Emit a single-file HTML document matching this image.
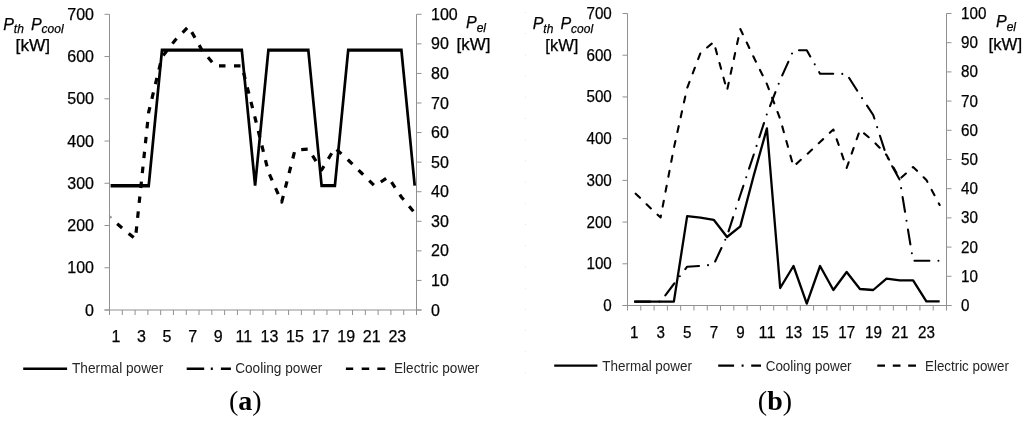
<!DOCTYPE html>
<html><head><meta charset="utf-8"><title>Thermal, cooling and electric power</title>
<style>
html,body{margin:0;padding:0;background:#fff;}
body{width:1024px;height:422px;overflow:hidden;}
svg{display:block;}
text{font-family:'Liberation Sans', Arial, sans-serif;fill:#000;stroke:#000;stroke-width:0.25px;}
.tick text{font-size:16px;}
.leg{font-size:14px;fill:#262626;stroke:none;}
.ttl{font-size:16px;}
.it{font-style:italic;}
.sub{font-size:12px;font-style:italic;}
.cap{font-family:'Liberation Serif', 'Times New Roman', serif;font-size:28px;stroke:none;}
</style></head>
<body>
<svg width="1024" height="422" viewBox="0 0 1024 422">
<defs>
<clipPath id="ca"><rect x="110.6" y="0" width="306" height="311"/></clipPath>
<clipPath id="cb"><rect x="628" y="0" width="318" height="306"/></clipPath>
</defs>
<rect width="1024" height="422" fill="#fff"/>
<g fill="#e4e4ec"><rect x="525" y="12" width="1" height="1"/><rect x="525" y="33.2" width="1" height="1"/><rect x="525" y="54.4" width="1" height="1"/><rect x="525" y="75.6" width="1" height="1"/><rect x="525" y="96.8" width="1" height="1"/><rect x="525" y="118" width="1" height="1"/><rect x="525" y="139.2" width="1" height="1"/><rect x="525" y="160.4" width="1" height="1"/><rect x="525" y="181.6" width="1" height="1"/><rect x="525" y="202.8" width="1" height="1"/><rect x="525" y="224" width="1" height="1"/><rect x="525" y="245.2" width="1" height="1"/><rect x="525" y="266.4" width="1" height="1"/><rect x="525" y="287.6" width="1" height="1"/><rect x="525" y="308.8" width="1" height="1"/><rect x="525" y="330" width="1" height="1"/><rect x="525" y="351.2" width="1" height="1"/><rect x="525" y="372.4" width="1" height="1"/></g>
<path d="M109.5 14.3V310M416.5 14.3V310" stroke="#919191" stroke-width="1" fill="none"/>
<path d="M104.5 310H421.5" stroke="#919191" stroke-width="1" fill="none"/>
<path d="M104.5 310H109.5M104.5 267.76H109.5M104.5 225.51H109.5M104.5 183.27H109.5M104.5 141.03H109.5M104.5 98.79H109.5M104.5 56.54H109.5M104.5 14.3H109.5M416.5 310H421.5M416.5 280.43H421.5M416.5 250.86H421.5M416.5 221.29H421.5M416.5 191.72H421.5M416.5 162.15H421.5M416.5 132.58H421.5M416.5 103.01H421.5M416.5 73.44H421.5M416.5 43.87H421.5M416.5 14.3H421.5M109.5 310V315M122.29 310V315M135.08 310V315M147.88 310V315M160.67 310V315M173.46 310V315M186.25 310V315M199.04 310V315M211.83 310V315M224.62 310V315M237.42 310V315M250.21 310V315M263 310V315M275.79 310V315M288.58 310V315M301.38 310V315M314.17 310V315M326.96 310V315M339.75 310V315M352.54 310V315M365.33 310V315M378.12 310V315M390.92 310V315M403.71 310V315M416.5 310V315" stroke="#919191" stroke-width="1" fill="none"/>
<g class="tick"><text x="94" y="315.5" text-anchor="end">0</text><text x="94" y="273.26" text-anchor="end">100</text><text x="94" y="231.01" text-anchor="end">200</text><text x="94" y="188.77" text-anchor="end">300</text><text x="94" y="146.53" text-anchor="end">400</text><text x="94" y="104.29" text-anchor="end">500</text><text x="94" y="62.04" text-anchor="end">600</text><text x="94" y="19.8" text-anchor="end">700</text><text x="431" y="315.5">0</text><text x="431" y="285.93">10</text><text x="431" y="256.36">20</text><text x="431" y="226.79">30</text><text x="431" y="197.22">40</text><text x="431" y="167.65">50</text><text x="431" y="138.08">60</text><text x="431" y="108.51">70</text><text x="431" y="78.94">80</text><text x="431" y="49.37">90</text><text x="431" y="19.8">100</text><text x="115.9" y="341.8" text-anchor="middle">1</text><text x="141.48" y="341.8" text-anchor="middle">3</text><text x="167.06" y="341.8" text-anchor="middle">5</text><text x="192.65" y="341.8" text-anchor="middle">7</text><text x="218.23" y="341.8" text-anchor="middle">9</text><text x="243.81" y="341.8" text-anchor="middle">11</text><text x="269.4" y="341.8" text-anchor="middle">13</text><text x="294.98" y="341.8" text-anchor="middle">15</text><text x="320.56" y="341.8" text-anchor="middle">17</text><text x="346.15" y="341.8" text-anchor="middle">19</text><text x="371.73" y="341.8" text-anchor="middle">21</text><text x="397.31" y="341.8" text-anchor="middle">23</text></g>
<g clip-path="url(#ca)" fill="none" stroke="#000" stroke-linejoin="miter" stroke-miterlimit="10">
<g transform="translate(108.8 0) scale(0.8 1)"><polyline points="0,185.8 16.62,185.8 33.25,185.8 49.87,185.8 66.5,50.1 83.13,50.1 99.75,50.1 116.38,50.1 133,50.1 149.62,50.1 166.25,50.1 182.88,185.6 199.5,50.1 216.12,50.1 232.75,50.1 249.38,50.1 266,185.6 282.62,185.6 299.25,50.1 315.87,50.1 332.5,50.1 349.12,50.1 365.75,50.1 382.38,185.6" stroke-width="3.4" stroke-miterlimit="3"/></g>
<polyline points="108.8,216.5 122.1,228 135.4,239 148.7,112 162,57 175.3,40 188.6,26.5 201.9,50 215.2,65.8 228.5,65.8 241.8,65.8 255.1,118 268.4,172 281.7,202 295,150 308.3,149 321.6,170 334.9,148 348.2,160 361.5,173 374.8,186 388.1,177 401.4,197 414.7,213" stroke-linejoin="round" stroke-width="3.2" stroke-dasharray="6.5 8.5" stroke-dashoffset="3.9"/>
</g>
<path d="M627.5 13.5V305.5M946.5 13.5V305.5" stroke="#919191" stroke-width="1" fill="none"/>
<path d="M622.5 305.5H951.5" stroke="#919191" stroke-width="1" fill="none"/>
<path d="M622.5 305.5H627.5M622.5 263.79H627.5M622.5 222.07H627.5M622.5 180.36H627.5M622.5 138.64H627.5M622.5 96.93H627.5M622.5 55.21H627.5M622.5 13.5H627.5M946.5 305.5H951.5M946.5 276.3H951.5M946.5 247.1H951.5M946.5 217.9H951.5M946.5 188.7H951.5M946.5 159.5H951.5M946.5 130.3H951.5M946.5 101.1H951.5M946.5 71.9H951.5M946.5 42.7H951.5M946.5 13.5H951.5M627.5 305.5V310.5M640.79 305.5V310.5M654.08 305.5V310.5M667.38 305.5V310.5M680.67 305.5V310.5M693.96 305.5V310.5M707.25 305.5V310.5M720.54 305.5V310.5M733.83 305.5V310.5M747.12 305.5V310.5M760.42 305.5V310.5M773.71 305.5V310.5M787 305.5V310.5M800.29 305.5V310.5M813.58 305.5V310.5M826.88 305.5V310.5M840.17 305.5V310.5M853.46 305.5V310.5M866.75 305.5V310.5M880.04 305.5V310.5M893.33 305.5V310.5M906.62 305.5V310.5M919.92 305.5V310.5M933.21 305.5V310.5M946.5 305.5V310.5" stroke="#919191" stroke-width="1" fill="none"/>
<g class="tick"><text x="611.8" y="311" text-anchor="end" textLength="8.45" lengthAdjust="spacingAndGlyphs">0</text><text x="611.8" y="269.29" text-anchor="end" textLength="25.35" lengthAdjust="spacingAndGlyphs">100</text><text x="611.8" y="227.57" text-anchor="end" textLength="25.35" lengthAdjust="spacingAndGlyphs">200</text><text x="611.8" y="185.86" text-anchor="end" textLength="25.35" lengthAdjust="spacingAndGlyphs">300</text><text x="611.8" y="144.14" text-anchor="end" textLength="25.35" lengthAdjust="spacingAndGlyphs">400</text><text x="611.8" y="102.43" text-anchor="end" textLength="25.35" lengthAdjust="spacingAndGlyphs">500</text><text x="611.8" y="60.71" text-anchor="end" textLength="25.35" lengthAdjust="spacingAndGlyphs">600</text><text x="611.8" y="19" text-anchor="end" textLength="25.35" lengthAdjust="spacingAndGlyphs">700</text><text x="961" y="311" textLength="8.45" lengthAdjust="spacingAndGlyphs">0</text><text x="961" y="281.8" textLength="16.9" lengthAdjust="spacingAndGlyphs">10</text><text x="961" y="252.6" textLength="16.9" lengthAdjust="spacingAndGlyphs">20</text><text x="961" y="223.4" textLength="16.9" lengthAdjust="spacingAndGlyphs">30</text><text x="961" y="194.2" textLength="16.9" lengthAdjust="spacingAndGlyphs">40</text><text x="961" y="165" textLength="16.9" lengthAdjust="spacingAndGlyphs">50</text><text x="961" y="135.8" textLength="16.9" lengthAdjust="spacingAndGlyphs">60</text><text x="961" y="106.6" textLength="16.9" lengthAdjust="spacingAndGlyphs">70</text><text x="961" y="77.4" textLength="16.9" lengthAdjust="spacingAndGlyphs">80</text><text x="961" y="48.2" textLength="16.9" lengthAdjust="spacingAndGlyphs">90</text><text x="961" y="19" textLength="25.35" lengthAdjust="spacingAndGlyphs">100</text><text x="634.15" y="337.8" text-anchor="middle" textLength="8.45" lengthAdjust="spacingAndGlyphs">1</text><text x="660.73" y="337.8" text-anchor="middle" textLength="8.45" lengthAdjust="spacingAndGlyphs">3</text><text x="687.31" y="337.8" text-anchor="middle" textLength="8.45" lengthAdjust="spacingAndGlyphs">5</text><text x="713.9" y="337.8" text-anchor="middle" textLength="8.45" lengthAdjust="spacingAndGlyphs">7</text><text x="740.48" y="337.8" text-anchor="middle" textLength="8.45" lengthAdjust="spacingAndGlyphs">9</text><text x="767.06" y="337.8" text-anchor="middle" textLength="16.9" lengthAdjust="spacingAndGlyphs">11</text><text x="793.65" y="337.8" text-anchor="middle" textLength="16.9" lengthAdjust="spacingAndGlyphs">13</text><text x="820.23" y="337.8" text-anchor="middle" textLength="16.9" lengthAdjust="spacingAndGlyphs">15</text><text x="846.81" y="337.8" text-anchor="middle" textLength="16.9" lengthAdjust="spacingAndGlyphs">17</text><text x="873.4" y="337.8" text-anchor="middle" textLength="16.9" lengthAdjust="spacingAndGlyphs">19</text><text x="899.98" y="337.8" text-anchor="middle" textLength="16.9" lengthAdjust="spacingAndGlyphs">21</text><text x="926.56" y="337.8" text-anchor="middle" textLength="16.9" lengthAdjust="spacingAndGlyphs">23</text></g>
<g clip-path="url(#cb)" fill="none" stroke="#000" stroke-linejoin="round">
<polyline points="634,301.6 647.29,301.6 660.58,301.6 673.87,284 687.16,266.7 700.45,266 713.74,264.5 727.03,236 740.32,195 753.61,155 766.9,114 780.19,80 793.48,50.3 806.77,50.3 820.06,73.7 833.35,73.7 846.64,74 859.93,95 873.22,115 886.51,156 899.8,180 913.09,260.8 926.38,260.8 939.67,260.8" stroke-width="2.1" stroke-linecap="round" stroke-dasharray="14.9 9.05 0 9.05" stroke-dashoffset="31.55"/>
<polyline points="634,192 647.29,205 660.58,217.5 673.87,148 687.16,88 700.45,53 713.74,42 727.03,90.5 740.32,29 753.61,57 766.9,84 780.19,119 793.48,166.5 806.77,154.5 820.06,142 833.35,129.5 846.64,168 859.93,130 873.22,141 886.51,155 899.8,179 913.09,167 926.38,180 939.67,205" stroke-width="2.1" stroke-linecap="round" stroke-dasharray="6 9.2" stroke-dashoffset="12.85"/>
<polyline points="634,301.6 647.29,301.6 660.58,301.6 673.87,301.6 687.16,216.1 700.45,217.6 713.74,219.8 727.03,237 740.32,226.4 753.61,176 766.9,128.4 780.19,288 793.48,266 806.77,303.6 820.06,266 833.35,290 846.64,272 859.93,289 873.22,290 886.51,278.6 899.8,280.3 913.09,280.3 926.38,301.4 939.67,301.4" stroke-width="2.3"/>
</g>
<text class="ttl it" x="3.2" y="29.5">P<tspan class="sub" dy="3.5">th</tspan><tspan dx="7" dy="-3.5">P</tspan><tspan class="sub" dy="3.5">cool</tspan></text><text class="ttl" x="15.6" y="51.3" textLength="34.5" lengthAdjust="spacingAndGlyphs">[kW]</text>
<text class="ttl it" x="466" y="28.2">P<tspan class="sub" dy="3.5">el</tspan></text><text class="ttl" x="456.6" y="50.3" textLength="33.8" lengthAdjust="spacingAndGlyphs">[kW]</text>
<text class="ttl it" x="532.7" y="29.1">P<tspan class="sub" dy="3.5">th</tspan><tspan dx="7" dy="-3.5">P</tspan><tspan class="sub" dy="3.5">cool</tspan></text><text class="ttl" x="545.3" y="50.8" textLength="33" lengthAdjust="spacingAndGlyphs">[kW]</text>
<text class="ttl it" x="996" y="27.4">P<tspan class="sub" dy="3.5">el</tspan></text><text class="ttl" x="988.6" y="49.8" textLength="33.5" lengthAdjust="spacingAndGlyphs">[kW]</text>
<path d="M23.2 368.7H67.1" stroke="#000" stroke-width="2.4"/>
<path d="M186.7 368.7H204.2M210.8 368.7H212.8M220.9 368.7H230.9" stroke="#000" stroke-width="2.4"/>
<path d="M345.9 368.7H353.2M361.7 368.7H369.2M377.3 368.7H385.3" stroke="#000" stroke-width="2.4"/>
<text class="leg" x="72" y="373" textLength="91.3" lengthAdjust="spacingAndGlyphs">Thermal power</text>
<text class="leg" x="235.2" y="373" textLength="87.2" lengthAdjust="spacingAndGlyphs">Cooling power</text>
<text class="leg" x="394" y="373" textLength="85.3" lengthAdjust="spacingAndGlyphs">Electric power</text>
<path d="M554.2 365.7H597.4" stroke="#000" stroke-width="2.2"/>
<path d="M718.2 365.7H734.1M741.6 365.7H743.6M751.2 365.7H761" stroke="#000" stroke-width="2.2"/>
<path d="M877.3 365.7H885M892.8 365.7H900.5M908.2 365.7H916" stroke="#000" stroke-width="2.2"/>
<text class="leg" x="602.3" y="370.6" textLength="89.7" lengthAdjust="spacingAndGlyphs">Thermal power</text>
<text class="leg" x="765.7" y="370.6" textLength="85.9" lengthAdjust="spacingAndGlyphs">Cooling power</text>
<text class="leg" x="925" y="370.6" textLength="83.9" lengthAdjust="spacingAndGlyphs">Electric power</text>
<text class="cap" x="229" y="409.9">(<tspan font-weight="bold">a</tspan>)</text>
<text class="cap" x="757.8" y="409.9">(<tspan font-weight="bold">b</tspan>)</text>
</svg>
</body></html>
